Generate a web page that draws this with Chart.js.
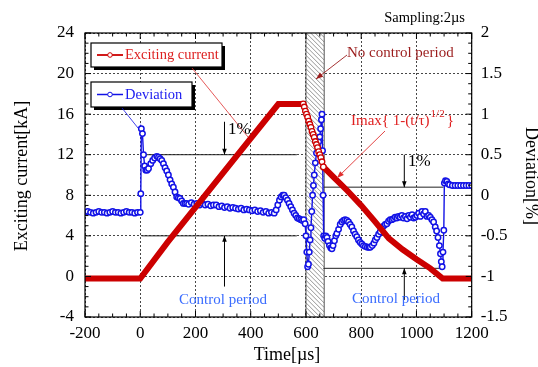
<!DOCTYPE html>
<html>
<head>
<meta charset="utf-8">
<script src="https://cdn.jsdelivr.net/npm/chart.js@4.4.0/dist/chart.umd.min.js"></script>
<style>
  html, body { margin: 0; padding: 0; background: #fff; }
</style>
</head>
<body>
<canvas id="chart" width="538" height="367"></canvas>
<script>
// === Datos ===
// Corriente de excitación [kA] vs tiempo [µs]
const curTime = [-200, 0, 100, 200, 300, 400, 500, 590,
  594, 598, 602, 606, 610, 614, 618, 622, 626, 630, 634, 638, 642, 646, 650, 654, 658, 663,
  700, 750, 800, 850, 900, 950, 1000, 1050, 1095, 1200];
const curValue = [-0.2, -0.2, 3.4, 6.8, 10.2, 13.6, 17.0, 17.0,
  16.7, 16.3, 16.0, 15.7, 15.3, 15.0, 14.7, 14.3, 14.0, 13.7, 13.3, 13.0, 12.7, 12.3, 12.0, 11.7, 11.3, 10.8,
  9.8, 8.45, 7.0, 5.4, 3.75, 2.65, 1.7, 0.8, -0.2, -0.2];

// Desviación [%] vs tiempo [µs]
const devTime = [
  -200, -190, -180, -170, -160, -150, -140, -130, -120, -110, -100, -90, -80, -70, -60, -50, -40, -30, -20, -10,
  0, 2, 4, 8, 12, 16, 20, 25, 30, 38, 45, 52, 60, 66, 72, 78, 84, 90, 96, 102, 108, 114, 120, 126, 132, 138, 144, 150, 156, 162, 168,
  175, 185, 195, 205, 215, 225, 235, 245, 255, 265, 275, 285, 295, 305, 315, 325, 335, 345, 355, 365, 375, 385, 395, 405, 415, 425, 435, 445, 455, 465, 475, 485,
  492, 498, 504, 510, 516, 521, 527, 533, 539, 545, 551, 557, 563, 569, 575, 581, 587, 592,
  597, 600, 603, 606, 609, 612, 615, 618, 621, 624, 627, 630, 634, 638, 642, 646, 650, 653, 656, 658, 660, 662, 664,
  668, 672, 676, 680, 685, 690, 694, 698, 703, 708,
  712, 718, 724, 730, 736, 742, 748, 754, 760, 766,
  772, 778, 784, 790, 796, 802, 808, 815, 822, 828,
  833, 840, 846, 851, 857, 863, 869, 875, 881, 887,
  893, 899, 905, 911, 917, 923, 929, 935, 941, 947,
  953, 960, 966, 972, 978, 984, 990, 996, 1002, 1008,
  1014, 1020, 1026, 1032, 1038, 1044, 1050, 1056, 1062, 1068,
  1073, 1078, 1083, 1087, 1090, 1093, 1096, 1099,
  1101, 1105, 1110, 1115, 1120, 1130, 1140, 1150, 1160, 1170, 1180, 1190, 1200
];
const devValue = [
  -0.21, -0.2, -0.21, -0.22, -0.21, -0.2, -0.21, -0.21, -0.22, -0.21, -0.2, -0.21, -0.21, -0.22, -0.21, -0.2, -0.21, -0.21, -0.22, -0.21,
  -0.21, 0.02, 0.82, 0.76, 0.5, 0.36, 0.31, 0.31, 0.33, 0.39, 0.43, 0.46, 0.48, 0.47, 0.45, 0.43, 0.39, 0.34, 0.3, 0.25, 0.19, 0.14, 0.1, 0.04, -0.02, -0.03, -0.04, -0.07, -0.1, -0.1, -0.1,
  -0.11, -0.09, -0.11, -0.1, -0.12, -0.1, -0.12, -0.11, -0.13, -0.12, -0.12, -0.14, -0.13, -0.15, -0.14, -0.16, -0.15, -0.16, -0.17, -0.16, -0.18, -0.17, -0.18, -0.19, -0.18, -0.2, -0.19, -0.21, -0.2, -0.22, -0.21, -0.22,
  -0.18, -0.12, -0.06, -0.02, 0.0, 0.0, -0.03, -0.06, -0.1, -0.14, -0.18, -0.22, -0.25, -0.28, -0.29, -0.3, -0.31, -0.3,
  -0.35, -0.5, -0.7, -0.88, -0.85, -0.7, -0.55, -0.4, -0.2, 0.0, 0.12, 0.25, 0.4, 0.52, 0.6, 0.66, 0.72, 0.82, 0.93, 1.0, 0.55, 0.0, -0.5,
  -0.53, -0.5, -0.52, -0.57, -0.62, -0.65, -0.66, -0.62, -0.56, -0.5,
  -0.47, -0.42, -0.36, -0.33, -0.31, -0.3, -0.31, -0.33, -0.36, -0.39,
  -0.44, -0.48, -0.51, -0.55, -0.58, -0.6, -0.62, -0.63, -0.64, -0.64,
  -0.64, -0.62, -0.59, -0.55, -0.52, -0.48, -0.45, -0.41, -0.38, -0.36,
  -0.35, -0.32, -0.3, -0.3, -0.29, -0.27, -0.28, -0.26, -0.27, -0.25,
  -0.28, -0.26, -0.29, -0.25, -0.27, -0.24, -0.28, -0.27, -0.25, -0.22,
  -0.26, -0.2, -0.23, -0.2, -0.26, -0.25, -0.27, -0.3, -0.33, -0.39,
  -0.44, -0.52, -0.62, -0.72, -0.82, -0.88, -0.7, -0.43,
  0.15, 0.18, 0.17, 0.14, 0.13, 0.12, 0.12, 0.12, 0.12, 0.12, 0.12, 0.12, 0.12
];

// Periodo sin control (zona rayada) y cotas del 1%
const noControl = [600, 666];
const leftBand = { from: 5, to: 567, hi: 12, lo: 4, at: 305, top: 15.25, bottom: -1.0 };   // kA
const rightBand = { from: 663, to: 1098, hi: 0.1, lo: -0.9, at: 956, top: 0.5, bottom: -1.29 }; // %

const RED = '#cc0000';
const BLUE = '#1212e6';
const SERIF = '"Liberation Serif", "Times New Roman", serif';

function enZonaRayada(x) {
  return x >= 590 && x <= 663;
}

function flecha(ctx, x1, y1, x2, y2, color, w, head) {
  ctx.strokeStyle = color;
  ctx.lineWidth = w;
  ctx.beginPath();
  ctx.moveTo(x1, y1);
  ctx.lineTo(x2, y2);
  ctx.stroke();
  if (head) {
    const a = Math.atan2(y2 - y1, x2 - x1), L = head, W = head * 0.38;
    ctx.fillStyle = color;
    ctx.beginPath();
    ctx.moveTo(x2, y2);
    ctx.lineTo(x2 - L * Math.cos(a) + W * Math.sin(a), y2 - L * Math.sin(a) - W * Math.cos(a));
    ctx.lineTo(x2 - L * Math.cos(a) - W * Math.sin(a), y2 - L * Math.sin(a) + W * Math.cos(a));
    ctx.closePath();
    ctx.fill();
  }
}

// Cota vertical con flechas hacia las líneas horizontales
function cota(ctx, xs, ys, b) {
  const x = xs.getPixelForValue(b.at);
  const yHi = ys.getPixelForValue(b.hi), yLo = ys.getPixelForValue(b.lo);
  ctx.strokeStyle = '#222';
  ctx.lineWidth = 1;
  ctx.beginPath();
  ctx.moveTo(xs.getPixelForValue(b.from), yHi);
  ctx.lineTo(xs.getPixelForValue(b.to), yHi);
  ctx.moveTo(xs.getPixelForValue(b.from), yLo);
  ctx.lineTo(xs.getPixelForValue(b.to), yLo);
  ctx.stroke();
  flecha(ctx, x, ys.getPixelForValue(b.top), x, yHi, '#000', 1, 6);
  flecha(ctx, x, ys.getPixelForValue(b.bottom), x, yLo, '#000', 1, 6);
}

const decoraciones = {
  id: 'decoraciones',
  beforeDatasetsDraw(chart) {
    const ctx = chart.ctx, a = chart.chartArea;
    const xs = chart.scales.x, y = chart.scales.y, y2 = chart.scales.y2;
    // zona rayada
    const x0 = xs.getPixelForValue(noControl[0]), x1 = xs.getPixelForValue(noControl[1]);
    ctx.save();
    ctx.beginPath();
    ctx.rect(x0, a.top, x1 - x0, a.bottom - a.top);
    ctx.clip();
    ctx.fillStyle = '#fff';
    ctx.fillRect(x0, a.top, x1 - x0, a.bottom - a.top);
    ctx.strokeStyle = '#7a7a7a';
    ctx.lineWidth = 0.8;
    ctx.beginPath();
    for (let yy = a.top - (x1 - x0); yy < a.bottom + 5; yy += 4.5) {
      ctx.moveTo(x0, yy);
      ctx.lineTo(x1, yy + (x1 - x0));
    }
    ctx.stroke();
    ctx.restore();
    ctx.save();
    ctx.strokeStyle = '#555';
    ctx.lineWidth = 1;
    ctx.beginPath();
    ctx.moveTo(x0, a.top); ctx.lineTo(x0, a.bottom);
    ctx.moveTo(x1, a.top); ctx.lineTo(x1, a.bottom);
    ctx.stroke();
    // cotas del 1%
    cota(ctx, xs, y, leftBand);
    cota(ctx, xs, y2, rightBand);
    ctx.restore();
  },
  afterDraw(chart) {
    const ctx = chart.ctx, a = chart.chartArea;
    const xs = chart.scales.x, y = chart.scales.y, y2 = chart.scales.y2;
    ctx.save();
    // marco
    ctx.strokeStyle = '#000';
    ctx.lineWidth = 1.2;
    ctx.strokeRect(a.left, a.top, a.right - a.left, a.bottom - a.top);
    // marcas hacia dentro
    ctx.lineWidth = 1;
    ctx.beginPath();
    for (let t = -200; t <= 1200; t += 50) {
      const px = xs.getPixelForValue(t), L = t % 200 === 0 ? 6 : 3.5;
      ctx.moveTo(px, a.bottom); ctx.lineTo(px, a.bottom - L);
      ctx.moveTo(px, a.top); ctx.lineTo(px, a.top + L);
    }
    for (let v = -4; v <= 24; v += 1) {
      const py = y.getPixelForValue(v), L = v % 4 === 0 ? 6 : 3.5;
      ctx.moveTo(a.left, py); ctx.lineTo(a.left + L, py);
    }
    for (let k = 0; k <= 28; k++) {
      const v = -1.5 + k * 0.125, py = y2.getPixelForValue(v), L = k % 4 === 0 ? 6 : 3.5;
      ctx.moveTo(a.right, py); ctx.lineTo(a.right - L, py);
    }
    ctx.stroke();

    // leyendas con sombra
    function caja(x, yy, w, h) {
      ctx.fillStyle = '#000';
      ctx.fillRect(x + 3, yy + 3, w, h);
      ctx.fillStyle = '#fff';
      ctx.fillRect(x, yy, w, h);
      ctx.strokeStyle = '#000';
      ctx.lineWidth = 1.2;
      ctx.strokeRect(x, yy, w, h);
    }
    caja(91, 43, 131, 24);
    caja(91, 82, 101, 25);
    ctx.font = '14.5px ' + SERIF;
    ctx.textBaseline = 'middle';
    ctx.textAlign = 'left';
    ctx.strokeStyle = RED; ctx.lineWidth = 1.8;
    ctx.beginPath(); ctx.moveTo(97, 55); ctx.lineTo(123, 55); ctx.stroke();
    ctx.fillStyle = '#fff'; ctx.lineWidth = 1;
    ctx.beginPath(); ctx.arc(110, 55, 2.3, 0, Math.PI * 2); ctx.fill(); ctx.stroke();
    ctx.fillStyle = '#dd1f1f';
    ctx.fillText('Exciting current', 125, 55.5);
    ctx.strokeStyle = BLUE; ctx.lineWidth = 1.5;
    ctx.beginPath(); ctx.moveTo(97, 94.5); ctx.lineTo(123, 94.5); ctx.stroke();
    ctx.fillStyle = '#fff'; ctx.lineWidth = 1;
    ctx.beginPath(); ctx.arc(110, 94.5, 2.3, 0, Math.PI * 2); ctx.fill(); ctx.stroke();
    ctx.fillStyle = '#1a1af0';
    ctx.fillText('Deviation', 125, 95);

    // líneas indicadoras
    flecha(ctx, 192, 68, 248, 137, '#e03030', 0.8, 0);
    flecha(ctx, 122, 108, 138, 128, BLUE, 0.8, 0);
    flecha(ctx, 347, 55, 316, 79, '#9b1c1c', 0.9, 7);
    flecha(ctx, 385, 131, 337, 178, '#e03030', 0.9, 7);

    // textos
    ctx.fillStyle = '#9b1c1c';
    ctx.font = '15px ' + SERIF;
    ctx.fillText('No control period', 347, 53);
    ctx.fillStyle = '#e02020';
    ctx.fillText('Imax{ 1-(t/τ)', 351, 121);
    const w1 = ctx.measureText('Imax{ 1-(t/τ)').width;
    ctx.font = '11px ' + SERIF;
    ctx.fillText('1/2', 351 + w1 + 1, 114);
    const w2 = ctx.measureText('1/2').width;
    ctx.font = '15px ' + SERIF;
    ctx.fillText('}', 351 + w1 + w2 + 3, 121);

    ctx.fillStyle = '#000';
    ctx.font = '17px ' + SERIF;
    ctx.fillText('1%', 228, 130);
    ctx.fillText('1%', 408, 162);

    ctx.fillStyle = '#3a6cff';
    ctx.font = '15px ' + SERIF;
    ctx.textAlign = 'center';
    ctx.fillText('Control period', 223, 300);
    ctx.fillText('Control period', 396, 299);

    ctx.fillStyle = '#000';
    ctx.textAlign = 'right';
    ctx.font = '14.5px ' + SERIF;
    ctx.fillText('Sampling:2µs', 465, 18);

    // títulos de ejes
    ctx.font = '18px ' + SERIF;
    ctx.textAlign = 'center';
    ctx.fillText('Time[µs]', 287, 355);
    ctx.save();
    ctx.translate(22, 176);
    ctx.rotate(-Math.PI / 2);
    ctx.fillText('Exciting current[kA]', 0, 0);
    ctx.restore();
    ctx.save();
    ctx.translate(531, 176);
    ctx.rotate(Math.PI / 2);
    ctx.fillText('Deviation[%]', 0, 0);
    ctx.restore();
    ctx.restore();
  }
};

const tickFont = { family: SERIF, size: 17 };
const gridComun = { color: '#333', lineWidth: 0.9, drawTicks: false };

const chart = new Chart(document.getElementById('chart'), {
  type: 'line',
  data: {
    datasets: [
      {
        label: 'Exciting current',
        yAxisID: 'y',
        data: curTime.map((t, i) => ({ x: t, y: curValue[i] })),
        borderColor: RED,
        borderWidth: 6,
        segment: {
          borderWidth: c => (enZonaRayada(c.p0.parsed.x) && c.p1.parsed.x <= 663) ? 1.3 : 6
        },
        pointRadius: c => (c.parsed && enZonaRayada(c.parsed.x)) ? 2.8 : 0,
        pointBackgroundColor: '#fff',
        pointBorderColor: RED,
        pointBorderWidth: 1.3,
        tension: 0
      },
      {
        label: 'Deviation',
        yAxisID: 'y2',
        data: devTime.map((t, i) => ({ x: t, y: devValue[i] })),
        borderColor: BLUE,
        borderWidth: 1.4,
        pointRadius: 2.7,
        pointBackgroundColor: '#fff',
        pointBorderColor: BLUE,
        pointBorderWidth: 1.5,
        tension: 0
      }
    ]
  },
  options: {
    responsive: false,
    animation: false,
    events: [],
    layout: { padding: { top: 33, left: 0, right: 0, bottom: 0 } },
    plugins: { legend: { display: false }, tooltip: { enabled: false } },
    scales: {
      x: {
        type: 'linear', min: -200, max: 1200,
        afterFit: s => { s.height = 50; },
        ticks: { stepSize: 200, color: '#000', font: tickFont, padding: 6, callback: v => String(v) },
        grid: gridComun,
        border: { display: false, dash: [2, 2] }
      },
      y: {
        position: 'left', min: -4, max: 24,
        afterFit: s => { s.width = 85; },
        ticks: { stepSize: 4, color: '#000', font: tickFont, padding: 11, callback: v => String(v) },
        grid: gridComun,
        border: { display: false, dash: [2, 2] }
      },
      y2: {
        position: 'right', min: -1.5, max: 2,
        afterFit: s => { s.width = 66.3; },
        ticks: { stepSize: 0.5, color: '#000', font: tickFont, padding: 9, callback: v => String(v) },
        grid: { display: false, drawTicks: false },
        border: { display: false }
      }
    }
  },
  plugins: [decoraciones]
});
</script>
</body>
</html>
